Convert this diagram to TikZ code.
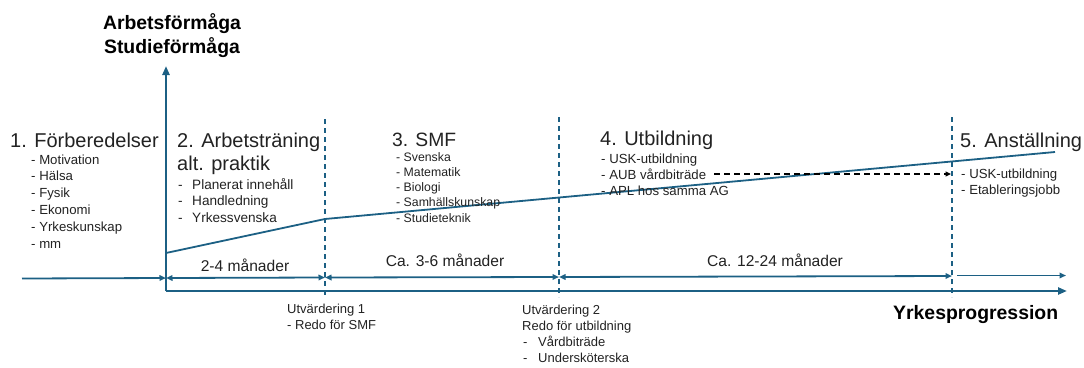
\documentclass[tikz,border=0pt]{standalone}
\usepackage{fontspec}
\setmainfont{Liberation Sans}
\usetikzlibrary{arrows.meta}
\definecolor{axisblue}{RGB}{28,96,132}
\definecolor{txtc}{RGB}{34,34,34}
\begin{document}
\begin{tikzpicture}[x=1pt,y=-1pt,
  txt/.style={anchor=base west,inner sep=0pt,text=txtc},
  head/.style={txt,font=\fontsize{20}{24}\selectfont},
  item/.style={txt,font=\fontsize{13.2}{16}\selectfont},
  smfitem/.style={txt,font=\fontsize{12.3}{15}\selectfont},
  dur/.style={anchor=base,inner sep=0pt,text=txtc,font=\fontsize{15.6}{18}\selectfont},
  evalt/.style={txt,font=\fontsize{13}{16}\selectfont},
  axlabel/.style={inner sep=0pt,text=black,font=\fontsize{19.4}{24}\bfseries\selectfont},
  axis/.style={draw=axisblue,line width=2.6pt,-{Triangle[length=9pt,width=7pt]}},
  span/.style={draw=axisblue,line width=1.8pt,{Triangle[length=6.5pt,width=5.5pt]}-{Triangle[length=6.5pt,width=5.5pt]}},
  oneway/.style={draw=axisblue,line width=1.8pt,-{Triangle[length=6.5pt,width=5.5pt]}},
  divider/.style={draw=axisblue,line width=1.7pt,dash pattern=on 5pt off 4pt},
  progress/.style={draw=axisblue,line width=1.8pt},
  link/.style={draw=black,line width=1.6pt,dash pattern=on 6pt off 4pt,-{Triangle[length=5.5pt,width=5pt]}}
]
\useasboundingbox (0,0) rectangle (1084,367);

% axes
\coordinate (org) at (166,291);
\coordinate (ytip) at (166,66);
\coordinate (xtip) at (1067,291);
\draw[axis] (org) -- (ytip);
\draw[axis] (org) -- (xtip);

% axis labels
\node[axlabel,anchor=base] (ylab1) at (172,29) {Arbetsförmåga};
\node[axlabel,anchor=base] (ylab2) at (172,53) {Studieförmåga};
\node[axlabel,anchor=base west] (xlab) at (893,319) {Yrkesprogression};

% dividers
\coordinate (d1t) at (325,119); \coordinate (d1b) at (325,297);
\coordinate (d2t) at (559,117); \coordinate (d2b) at (559,297);
\coordinate (d3t) at (952,117); \coordinate (d3b) at (952,297);
\draw[divider] (d1t) -- (d1b);
\draw[divider] (d2t) -- (d2b);
\draw[divider] (d3t) -- (d3b);

% timeline
\coordinate (t0) at (22,278.5);
\coordinate (t1) at (166,278);
\coordinate (t2) at (325,277.5);
\coordinate (t3) at (559,277);
\coordinate (t4) at (952,276);
\coordinate (t5) at (957,275.5);
\coordinate (t6) at (1066,275.5);
\draw[oneway] (t0) -- (t1);
\draw[span] (t1) -- (t2);
\draw[span] (t2) -- (t3);
\draw[span] (t3) -- (t4);
\draw[oneway] (t5) -- (t6);

% progress line
\coordinate (p0) at (166,253);
\coordinate (p1) at (325,219);
\coordinate (p2) at (1055,152);
\draw[progress] (p0) -- (p1) -- (p2);

% dashed link
\coordinate (l0) at (714,174);
\coordinate (l1) at (951,174);
\draw[link] (l0) -- (l1);

% durations
\node[dur] (dur1) at (245,271) {2-4 månader};
\node[dur] (dur2) at (445,266) {Ca. 3-6 månader};
\node[dur] (dur3) at (775,266) {Ca. 12-24 månader};

% 1
\node[head] (h1) at (10,147) {1. Förberedelser};
\foreach \t [count=\i] in {Motivation,Hälsa,Fysik,Ekonomi,Yrkeskunskap,mm}
  \node[item] (a\i) at (31,{164+16.8*(\i-1)}) {- \t};

% 2
\node[head] (h2) at (177,147) {2. Arbetsträning};
\node[head] (h2b) at (177,170) {alt. praktik};
\foreach \t [count=\i] in {Planerat innehåll,Handledning,Yrkessvenska}
  \node[item,font=\fontsize{13.6}{16}\selectfont] (b\i) at (178,{189+16.5*(\i-1)}) {\makebox[14pt][l]{-}\t};

% 3
\node[head,font=\fontsize{19.3}{24}\selectfont] (h3) at (392,146) {3. SMF};
\foreach \t [count=\i] in {Svenska,Matematik,Biologi,Samhällskunskap,Studieteknik}
  \node[smfitem] (c\i) at (396,{161+15.25*(\i-1)}) {- \t};

% 4
\node[head] (h4) at (600,145) {4. Utbildning};
\foreach \t [count=\i] in {USK-utbildning,AUB vårdbiträde,APL hos samma AG}
  \node[item] (e\i) at (601,{163+16*(\i-1)}) {- \t};

% 5
\node[head] (h5) at (960,147) {5. Anställning};
\foreach \t [count=\i] in {USK-utbildning,Etableringsjobb}
  \node[item] (f\i) at (961,{178+16*(\i-1)}) {- \t};

% evaluations
\node[evalt] (u1) at (287,313) {Utvärdering 1};
\node[evalt] (u1b) at (287,329) {- Redo för SMF};
\node[evalt] (u2) at (522,314) {Utvärdering 2};
\node[evalt] (u2b) at (522,330) {Redo för utbildning};
\node[evalt] (u2c) at (523,346) {\makebox[15pt][l]{-}Vårdbiträde};
\node[evalt] (u2d) at (523,362) {\makebox[15pt][l]{-}Undersköterska};
\end{tikzpicture}
\end{document}
